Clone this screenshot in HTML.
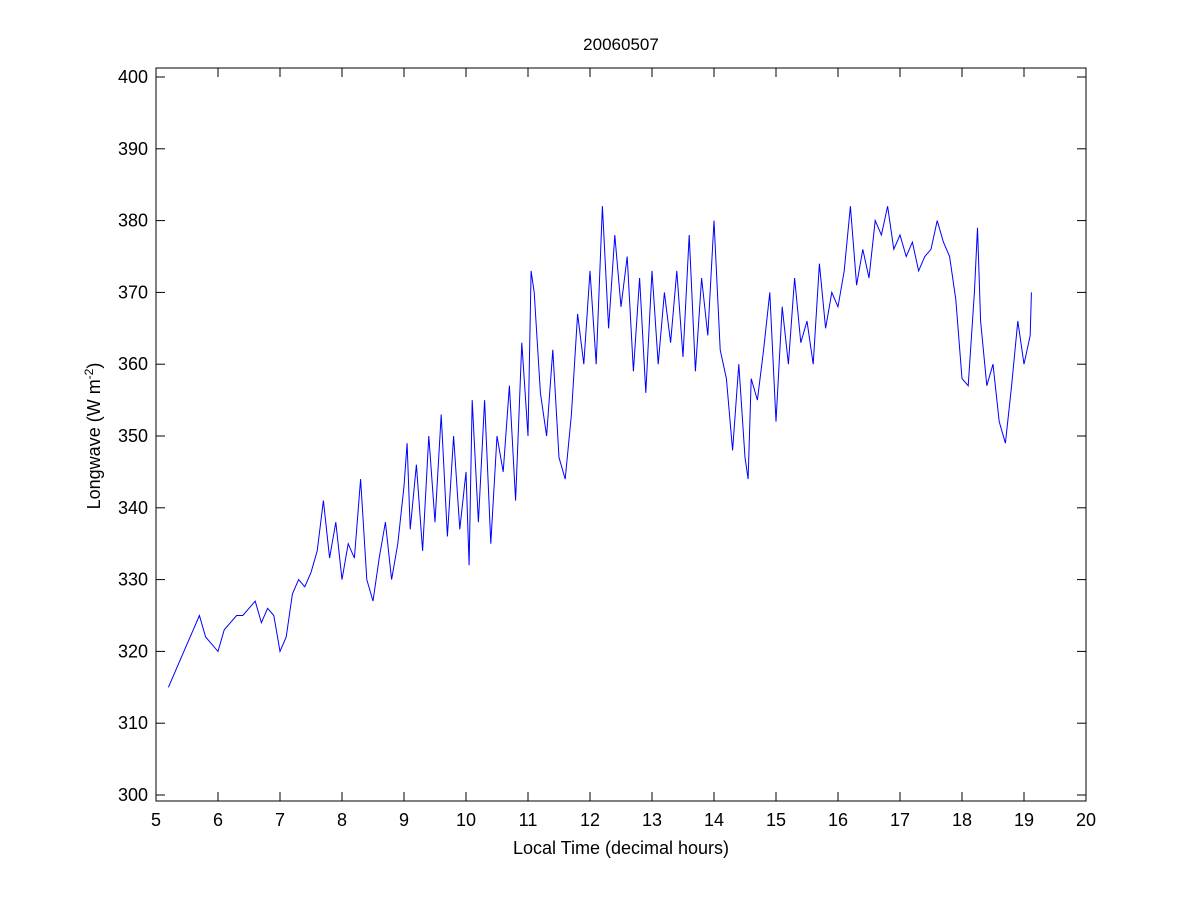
<!DOCTYPE html>
<html><head><meta charset="utf-8"><style>
body{margin:0;background:#fff;}
svg text{font-family:"Liberation Sans",sans-serif;fill:#000;}
</style></head><body>
<svg id="chart" width="1200" height="900" xmlns="http://www.w3.org/2000/svg">
<rect width="1200" height="900" fill="#fff"/>
</svg>
<script>
const hours=[5.2,5.3,5.4,5.5,5.6,5.7,5.8,5.9,6.0,6.1,6.2,6.3,6.4,6.5,6.6,6.7,6.8,6.9,7.0,7.1,7.2,7.3,7.4,7.5,7.6,7.7,7.8,7.9,8.0,8.1,8.2,8.3,8.4,8.5,8.6,8.7,8.8,8.9,9.0,9.05,9.1,9.2,9.3,9.4,9.5,9.6,9.7,9.8,9.9,10.0,10.05,10.1,10.2,10.3,10.4,10.5,10.6,10.7,10.8,10.9,11.0,11.05,11.1,11.2,11.3,11.4,11.5,11.6,11.7,11.8,11.9,12.0,12.1,12.2,12.3,12.4,12.5,12.6,12.7,12.8,12.9,13.0,13.1,13.2,13.3,13.4,13.5,13.6,13.7,13.8,13.9,14.0,14.1,14.2,14.3,14.4,14.5,14.55,14.6,14.7,14.8,14.9,15.0,15.1,15.2,15.3,15.4,15.5,15.6,15.7,15.8,15.9,16.0,16.1,16.2,16.3,16.4,16.5,16.6,16.7,16.8,16.9,17.0,17.1,17.2,17.3,17.4,17.5,17.6,17.7,17.8,17.9,18.0,18.1,18.2,18.25,18.3,18.4,18.5,18.6,18.7,18.8,18.9,19.0,19.1,19.12];
const longwave=[315,317,319,321,323,325,322,321,320,323,324,325,325,326,327,324,326,325,320,322,328,330,329,331,334,341,333,338,330,335,333,344,330,327,333,338,330,335,343,349,337,346,334,350,338,353,336,350,337,345,332,355,338,355,335,350,345,357,341,363,350,373,370,356,350,362,347,344,353,367,360,373,360,382,365,378,368,375,359,372,356,373,360,370,363,373,361,378,359,372,364,380,362,358,348,360,347,344,358,355,362,370,352,368,360,372,363,366,360,374,365,370,368,373,382,371,376,372,380,378,382,376,378,375,377,373,375,376,380,377,375,369,358,357,370,379,366,357,360,352,349,357,366,360,364,370];
const xTicks=[5,6,7,8,9,10,11,12,13,14,15,16,17,18,19,20];
const yTicks=[300,310,320,330,340,350,360,370,380,390,400];
const L=156,R=1086,T=68,B=801;
const X=v=>L+(v-5)*(R-L)/15;
const Y=v=>795-(v-300)*(795-77)/100;
const svg=document.getElementById('chart');
const NS='http://www.w3.org/2000/svg';
function mk(tag,attrs,parent){const e=document.createElementNS(NS,tag);for(const k in attrs)e.setAttribute(k,attrs[k]);(parent||svg).appendChild(e);return e;}
const box=mk('rect',{x:L,y:T,width:R-L,height:B-T,fill:'none',stroke:'#000','stroke-width':1});


xTicks.forEach(t=>{const x=X(t);
mk('line',{x1:x,x2:x,y1:B,y2:B-9,stroke:'#000'});mk('line',{x1:x,x2:x,y1:T,y2:T+9,stroke:'#000'});
const tx=mk('text',{x:x,y:B+25,'font-size':18,'text-anchor':'middle'});tx.textContent=t;

});
yTicks.forEach(t=>{const y=Y(t);
mk('line',{x1:L,x2:L+9,y1:y,y2:y,stroke:'#000'});mk('line',{x1:R,x2:R-9,y1:y,y2:y,stroke:'#000'});
const tx=mk('text',{x:L-8,y:y+6,'font-size':18,'text-anchor':'end'});tx.textContent=t;

});
const pts=hours.map((h,i)=>X(h).toFixed(1)+','+Y(longwave[i]).toFixed(1)).join(' ');
const line=mk('polyline',{points:pts,fill:'none',stroke:'#0000ff','stroke-width':1});


const title=mk('text',{x:621,y:50,'font-size':17,'text-anchor':'middle'});title.textContent='20060507';


const xl=mk('text',{x:621,y:854,'font-size':18,'text-anchor':'middle'});xl.textContent='Local Time (decimal hours)';


const yl=mk('text',{transform:'translate(100,436) rotate(-90)','font-size':18,'text-anchor':'middle'});
yl.innerHTML='Longwave (W m<tspan dy="-7" font-size="12">-2</tspan><tspan dy="7">)</tspan>';


</script>
</body></html>
